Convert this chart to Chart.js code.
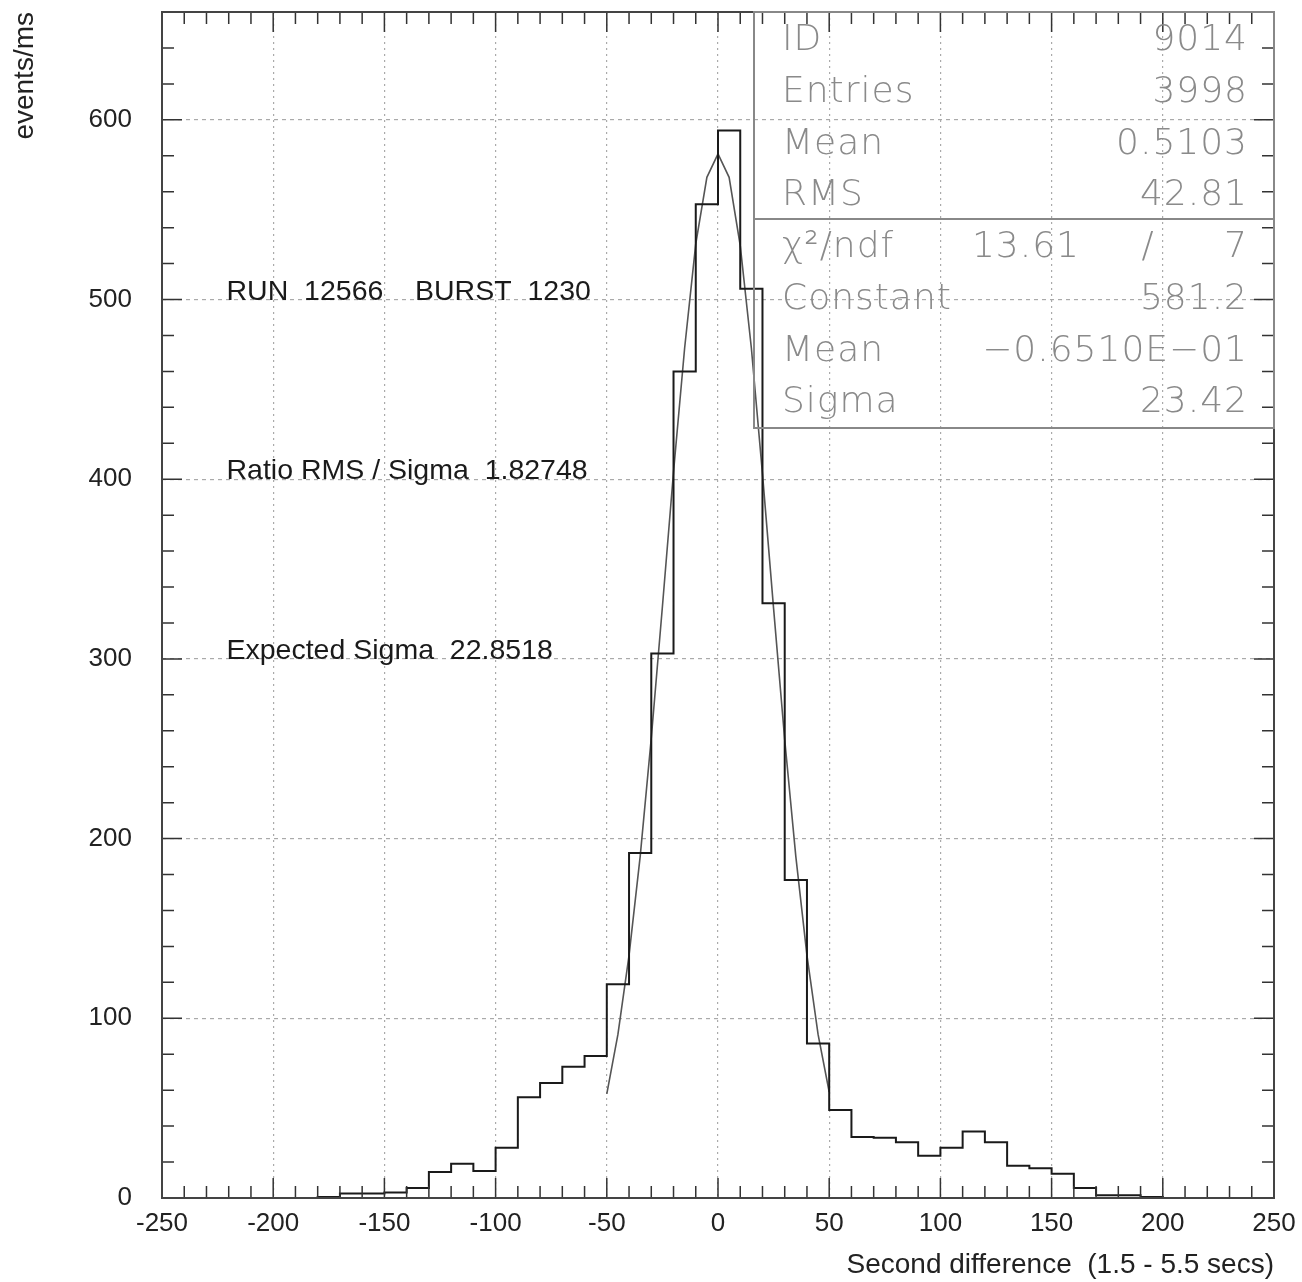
<!DOCTYPE html>
<html>
<head>
<meta charset="utf-8">
<script src="https://cdn.jsdelivr.net/npm/chart.js@4.4.1/dist/chart.umd.min.js"></script>
<style>
  html, body { margin: 0; padding: 0; background: #fff; overflow: hidden; }
  #holder { width: 1302px; height: 1282px; position: relative; }
</style>
</head>
<body>
<div id="holder"><canvas id="myChart"></canvas></div>
<script>
// histogram bin lower edges (width 10) and contents
const binEdges = [-250,-240,-230,-220,-210,-200,-190,-180,-170,-160,-150,-140,-130,-120,-110,-100,-90,-80,-70,-60,
                  -50,-40,-30,-20,-10,0,10,20,30,40,50,60,70,80,90,100,110,120,130,140,
                  150,160,170,180,190,200,210,220,230,240,250];
const binCounts = [0,0,0,0,0,0,0,0.5,2.5,2.5,3,5.5,14.5,19,15,28,56,64,73,79,
                   119,192,303,460,553,594,506,331,177,86,49,34,33.5,31,23.5,28,37,31,18,16.5,
                   13.5,5.5,1.5,1.5,0.5,0,0,0,0,0];

// gaussian fit curve as drawn (x, y)
const fitX = [-50,-45,-40,-35,-30,-25,-20,-15,-10,-5,0,5,10,15,20,25,30,35,40,45,50];
const fitY = [58,91,135,190,256,329,404,473,531,568,581,568,530,473,403,328,255,190,135,91,59];

const xTicks = [-250,-200,-150,-100,-50,0,50,100,150,200,250];
const yTicks = [0,100,200,300,400,500,600];

const statRows = [
    ['ID', '9014'],
    ['Entries', '3998'],
    ['Mean', '0.5103'],
    ['RMS', '42.81'],
    ['χ²/ndf', '7'],
    ['Constant', '581.2'],
    ['Mean', '−0.6510E−01'],
    ['Sigma', '23.42']
];
const notes = [
    ['RUN  12566    BURST  1230', -221, 500],
    ['Ratio RMS / Sigma  1.82748', -221, 400],
    ['Expected Sigma  22.8518', -221, 300]
];

const histPoints = binEdges.map((e, i) => ({ x: e, y: i < binCounts.length ? binCounts[i] : binCounts[binCounts.length - 1] }));
const fitPoints = fitX.map((x, i) => ({ x: x, y: fitY[i] }));

const sansFont = "'Liberation Sans', Arial, sans-serif";

// inward ticks, frame, stats box and text notes
const pawDecor = {
    id: 'pawDecor',
    afterDatasetsDraw(chart) {
        const ctx = chart.ctx;
        const a = chart.chartArea;
        const xs = chart.scales.x, ys = chart.scales.y;
        ctx.save();
        ctx.strokeStyle = '#333';
        ctx.lineWidth = 1.5;
        ctx.beginPath();
        for (let v = -250; v <= 250; v += 10) {
            const px = xs.getPixelForValue(v);
            const len = (v % 50 === 0) ? 20 : 12;
            ctx.moveTo(px, a.bottom); ctx.lineTo(px, a.bottom - len);
            ctx.moveTo(px, a.top); ctx.lineTo(px, a.top + len);
        }
        for (let v = 0; v <= 660; v += 20) {
            const py = ys.getPixelForValue(v);
            const len = (v % 100 === 0) ? 20 : 12;
            ctx.moveTo(a.left, py); ctx.lineTo(a.left + len, py);
            ctx.moveTo(a.right, py); ctx.lineTo(a.right - len, py);
        }
        ctx.stroke();

        ctx.lineWidth = 2;
        ctx.strokeStyle = '#444';
        ctx.strokeRect(a.left, a.top, a.right - a.left, a.bottom - a.top);

        // stats box
        const bx = a.right - 520, by = a.top, bh = 416;
        ctx.strokeStyle = '#888';
        ctx.lineWidth = 2;
        ctx.strokeRect(bx, by, 520, bh);
        ctx.beginPath();
        ctx.moveTo(bx, by + 207); ctx.lineTo(a.right, by + 207);
        ctx.stroke();

        ctx.fillStyle = '#8a8a8a';
        ctx.font = "200 36px 'DejaVu Sans', sans-serif";
        ctx.letterSpacing = '1px';
        ctx.textBaseline = 'middle';
        statRows.forEach((row, i) => {
            const cy = by + 29 + i * 51.7;
            ctx.textAlign = 'left';
            ctx.fillText(row[0], bx + 28, cy);
            ctx.textAlign = 'right';
            ctx.fillText(row[1], a.right - 26, cy);
        });
        const chiY = by + 29 + 4 * 51.7;
        ctx.textAlign = 'right';
        ctx.fillText('13.61', bx + 326, chiY);
        ctx.textAlign = 'center';
        ctx.fillText('/', bx + 394, chiY);
        ctx.letterSpacing = '0px';

        // text notes placed at data coordinates
        ctx.fillStyle = '#1a1a1a';
        ctx.font = '28.5px ' + sansFont;
        ctx.textAlign = 'left';
        ctx.textBaseline = 'alphabetic';
        notes.forEach(n => {
            ctx.fillText(n[0], xs.getPixelForValue(n[1]), ys.getPixelForValue(n[2]));
        });
        ctx.restore();
    }
};

const ctx = document.getElementById('myChart').getContext('2d');
const myChart = new Chart(ctx, {
    type: 'line',
    data: {
        datasets: [
            {
                label: 'histogram',
                data: histPoints,
                stepped: 'before',
                borderColor: '#1a1a1a',
                borderWidth: 2,
                pointRadius: 0,
                fill: false
            },
            {
                label: 'fit',
                data: fitPoints,
                borderColor: '#555',
                borderWidth: 1.6,
                pointRadius: 0,
                tension: 0,
                fill: false
            }
        ]
    },
    options: {
        responsive: true,
        maintainAspectRatio: false,
        animation: false,
        events: [],
        layout: { padding: { left: 0, top: 12, right: 28, bottom: 0 } },
        plugins: {
            legend: { display: false },
            tooltip: { enabled: false }
        },
        scales: {
            x: {
                type: 'linear',
                min: -250,
                max: 250,
                afterBuildTicks: s => { s.ticks = xTicks.map(v => ({ value: v })); },
                afterFit: s => { s.height = 84; s.paddingLeft = 0; s.paddingRight = 0; },
                ticks: {
                    color: '#222',
                    font: { family: sansFont, size: 26 },
                    padding: 10,
                    maxRotation: 0,
                    autoSkip: false
                },
                grid: { color: '#aaa', lineWidth: 1.2, drawTicks: false },
                border: { display: false, dash: [2, 4] },
                title: {
                    display: true,
                    text: 'Second difference  (1.5 - 5.5 secs)',
                    align: 'end',
                    color: '#222',
                    font: { family: sansFont, size: 28 },
                    padding: { top: 0, bottom: 0 }
                }
            },
            y: {
                min: 0,
                max: 660,
                afterBuildTicks: s => { s.ticks = yTicks.map(v => ({ value: v })); },
                afterFit: s => { s.width = 162; s.paddingTop = 0; s.paddingBottom = 0; },
                ticks: {
                    color: '#222',
                    font: { family: sansFont, size: 26 },
                    padding: 30
                },
                grid: { color: '#aaa', lineWidth: 1.2, drawTicks: false },
                border: { display: false, dash: [4, 4] },
                title: {
                    display: true,
                    text: 'events/ms',
                    align: 'end',
                    color: '#222',
                    font: { family: sansFont, size: 28 },
                    padding: { top: 8, bottom: 0 }
                }
            }
        }
    },
    plugins: [pawDecor]
});
</script>
</body>
</html>
